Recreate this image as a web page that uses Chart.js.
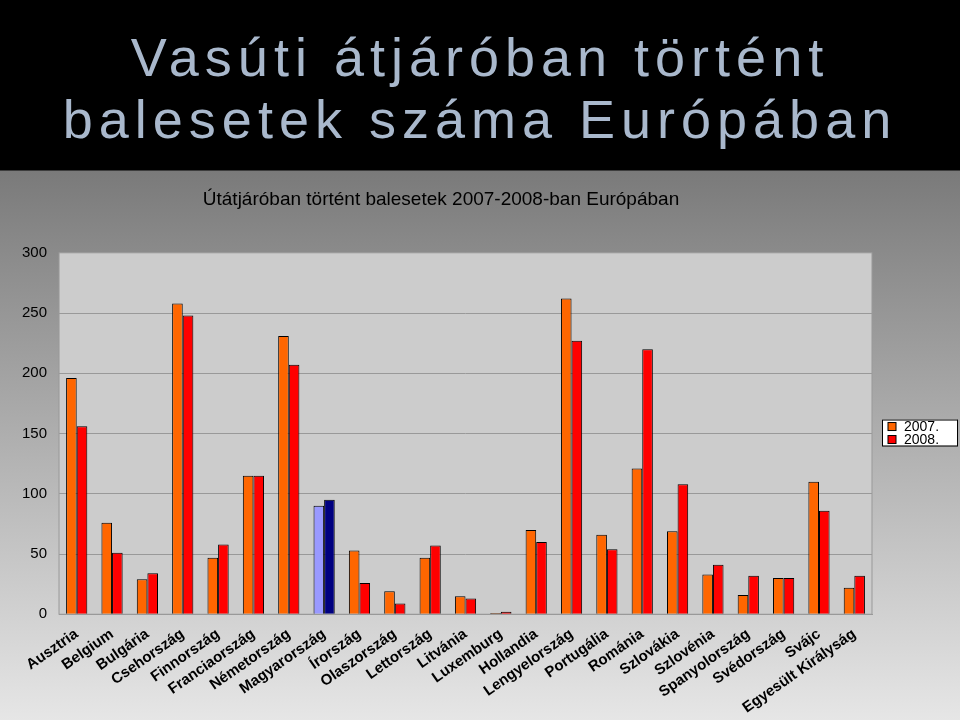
<!DOCTYPE html>
<html>
<head>
<meta charset="utf-8">
<script src="https://cdn.jsdelivr.net/npm/chart.js"></script>
<style>
  html, body { margin: 0; padding: 0; width: 960px; height: 720px; overflow: hidden; }
  body { background: linear-gradient(to bottom, #000 0, #000 170px, #7a7a7a 171px, #8c8c8c 260px, #e6e6e6 720px); position: relative; font-family: "Liberation Sans", Arial, sans-serif; }
  #title { position: absolute; left: 0; top: 26px; width: 960px; text-align: center; color: #a9b8cc; font-size: 54px; letter-spacing: 6px; line-height: 62px; }
  #wrap { position: absolute; left: 0; top: 170px; width: 960px; height: 550px; }
</style>
</head>
<body>
<div id="title">Vasúti átjáróban történt<br>balesetek száma Európában</div>
<div id="wrap"><canvas id="c" width="960" height="550"></canvas></div>
<script>
const countries = ['Ausztria', 'Belgium', 'Bulgária', 'Csehország', 'Finnország', 'Franciaország', 'Németország', 'Magyarország', 'Írország', 'Olaszország', 'Lettország', 'Litvánia', 'Luxemburg', 'Hollandia', 'Lengyelország', 'Portugália', 'Románia', 'Szlovákia', 'Szlovénia', 'Spanyolország', 'Svédország', 'Svájc', 'Egyesült Királyság'];
const values2007 = [196, 76, 29, 258, 47, 115, 231, 90, 53, 19, 47, 15, 1, 70, 262, 66, 121, 69, 33, 16, 30, 110, 22];
const values2008 = [156, 51, 34, 248, 58, 115, 207, 95, 26, 9, 57, 13, 2, 60, 227, 54, 220, 108, 41, 32, 30, 86, 32];
const highlight = 'Magyarország';

const plotBg = {
  id: 'plotBg',
  beforeDraw(chart) {
    const { ctx, chartArea: a } = chart;
    ctx.save();
    ctx.fillStyle = '#cccccc';
    ctx.fillRect(a.left, a.top, a.right - a.left, a.bottom - a.top);
    ctx.strokeStyle = '#999';
    ctx.strokeRect(a.left, a.top, a.right - a.left, a.bottom - a.top);
    ctx.restore();
  }
};

const colorsFor = (base, hl) => countries.map(c => c === highlight ? hl : base);

new Chart(document.getElementById('c'), {
  type: 'bar',
  data: {
    labels: countries,
    datasets: [
      { label: '2007.', data: values2007, backgroundColor: colorsFor('#ff6600', '#9999ff'), borderColor: '#000', borderWidth: 1, legendColor: '#ff6600' },
      { label: '2008.', data: values2008, backgroundColor: colorsFor('#ff0000', '#000080'), borderColor: '#000', borderWidth: 1, legendColor: '#ff0000' }
    ]
  },
  options: {
    responsive: false,
    animation: false,
    layout: { padding: { left: 10, right: 88, top: 10 } },
    datasets: { bar: { categoryPercentage: 0.6, barPercentage: 1 } },
    plugins: {
      title: { display: true, text: 'Útátjáróban történt balesetek 2007-2008-ban Európában', color: '#000', font: { size: 19, weight: 'normal', family: 'Liberation Sans' }, padding: { top: 8, bottom: 42 } },
      legend: { display: false },
      tooltip: { enabled: false }
    },
    scales: {
      y: {
        min: 0, max: 300,
        ticks: { stepSize: 50, color: '#000', font: { size: 15, family: 'Liberation Sans' }, padding: 12 },
        grid: { color: '#999', drawTicks: false },
        border: { display: false }
      },
      x: {
        ticks: { color: '#000', font: { size: 15, weight: 'bold', family: 'Liberation Sans' }, maxRotation: 35, minRotation: 35, autoSkip: false },
        grid: { display: false },
        border: { color: '#999' }
      }
    }
  },
  plugins: [plotBg, {
    id: 'legendBox',
    afterDraw(chart) {
      const { ctx, chartArea: a } = chart;
      const x = a.right + 10, y = (a.top + a.bottom) / 2 - 14;
      ctx.save();
      ctx.fillStyle = '#fff';
      ctx.fillRect(x, y, 75, 26);
      ctx.strokeStyle = '#000';
      ctx.strokeRect(x + 0.5, y + 0.5, 75, 26);
      ctx.font = '14px "Liberation Sans"';
      ctx.textBaseline = 'middle';
      chart.data.datasets.forEach((ds, i) => {
        const yy = y + 7 + i * 13;
        ctx.fillStyle = ds.legendColor;
        ctx.fillRect(x + 6, yy - 4, 8, 8);
        ctx.strokeRect(x + 6, yy - 4, 8, 8);
        ctx.fillStyle = '#000';
        ctx.fillText(ds.label, x + 22, yy + 1);
      });
      ctx.restore();
    }
  }]
});
</script>
</body>
</html>
